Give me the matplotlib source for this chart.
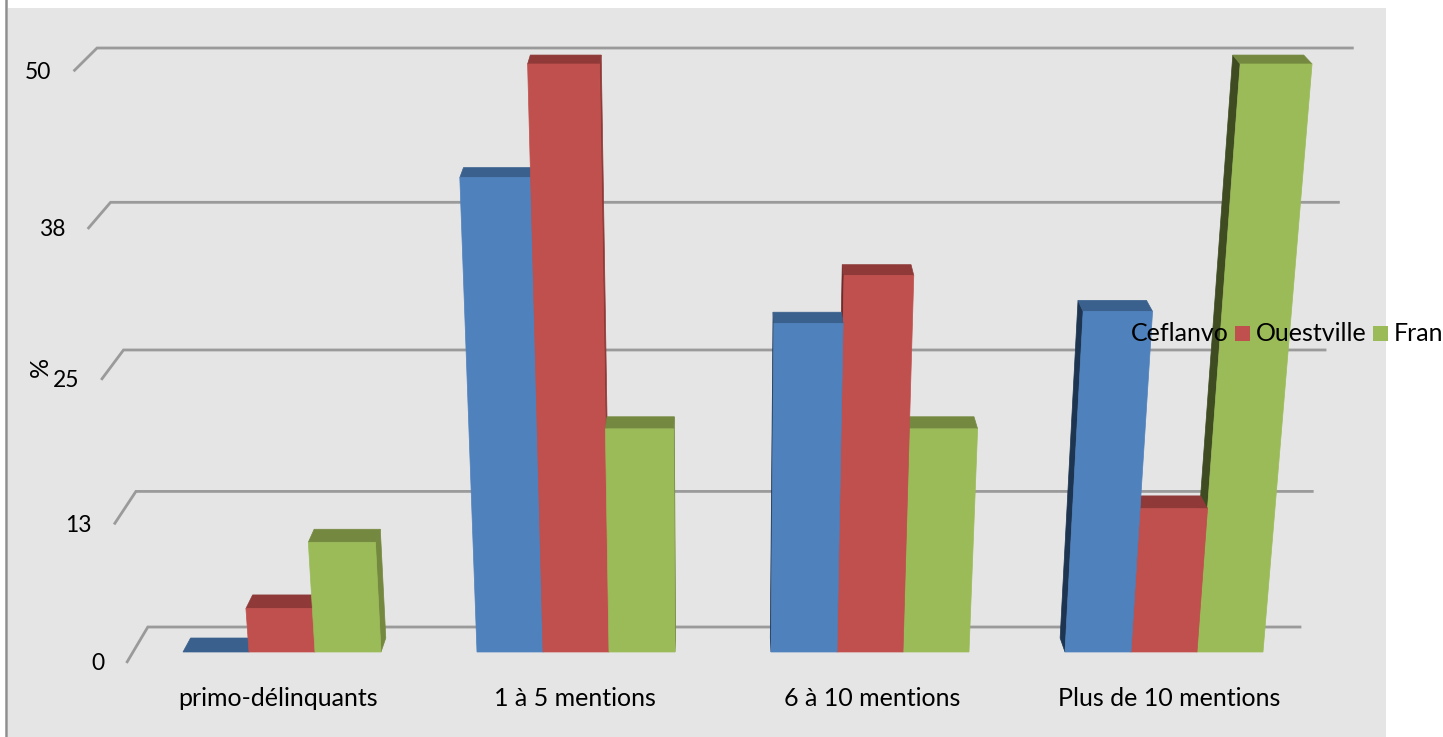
import numpy as np
import matplotlib
matplotlib.use('Agg')
import matplotlib.pyplot as plt
from matplotlib.patches import Rectangle

plt.rcParams['font.family'] = ['Lato', 'DejaVu Sans']

categories = ['primo-délinquants', '1 à 5 mentions', '6 à 10 mentions', 'Plus de 10 mentions']
ceflanvo = [0, 41, 29, 30]
ouestville = [4, 50, 33, 13]
france = [10, 20, 20, 50]
tick_values = [0, 12.5, 25, 37.5, 50]
tick_labels = ['0', '13', '25', '38', '50']

series = [ceflanvo, ouestville, france]
front_cols = ['#4f81bd', '#c0504d', '#9bbb59']
top_cols = ['#3a618e', '#8f3a38', '#74893f']
dark_cols = ['#1d3550', '#6e2b2a', '#3f4c22']   # side facing the middle from the right

# camera of the fake 3D chart, all in image pixels
VP_X, VP_Y = 715, 7220
DEPTH_X, DEPTH_Y = 720, -981
DEPTH_GAIN = 1.65
BASE_Y, TOP_Y = 652, 64
CURVE = 1.09
BAR_DEPTH = 0.00857
WALL_DEPTH = 0.0153
TICK_DEPTH = -0.006
FIRST_BAR, CAT_STEP, BAR_W = 183, 294, 66
WALL_LEFT, WALL_RIGHT = 133, 1315
LABEL_X, LABEL_STEP = 278, 297


def project(x0, value, depth=0.0):
    t = value / 50
    y = BASE_Y - (BASE_Y - TOP_Y) * t / (t + CURVE * (1 - t))
    x = VP_X + (x0 - VP_X) * (VP_Y - y) / (VP_Y - BASE_Y)
    x = x + (DEPTH_X - x) * depth * DEPTH_GAIN
    y = y - (y - DEPTH_Y) * depth
    return x, y


def face(ax, pts, color, zorder):
    xs, ys = zip(*pts)
    ax.fill(xs, ys, facecolor=color, edgecolor=color, lw=0.5, zorder=zorder)


fig = plt.figure(figsize=(14.43, 7.37), dpi=100, facecolor='white')
ax = fig.add_axes([0, 0, 1, 1])
ax.set_xlim(0, 1443)
ax.set_ylim(737, 0)
ax.axis('off')

ax.add_patch(Rectangle((8, 8), 1378, 729, facecolor='#e5e5e5', edgecolor='none', zorder=0))
ax.plot([6, 6], [0, 737], color='#8e8e8e', lw=1.8, zorder=1)

# grid on the back wall plus the short tick going forward on the left
for val, lab in zip(tick_values, tick_labels):
    a = project(WALL_LEFT, val, TICK_DEPTH)
    b = project(WALL_LEFT, val, WALL_DEPTH)
    c = project(WALL_RIGHT, val, WALL_DEPTH)
    ax.plot([a[0], b[0], c[0]], [a[1], b[1], c[1]], color='#9a9a9a', lw=2.0, zorder=2,
            solid_joinstyle='miter')
    ax.text(a[0] - 23, a[1] + 2, lab, fontsize=16.5, color='black', ha='right', va='center', zorder=1000)

ax.text(40, 367, '%', fontsize=18, rotation=90, ha='center', va='center', zorder=1000)

# bars, furthest from the middle of the picture first so the overlaps come out right
z = 5
for c in range(len(categories)):
    order = [0, 1, 2] if c < 2 else [2, 1, 0]
    for s in order:
        val = series[s][c]
        x_l = FIRST_BAR + CAT_STEP * c + BAR_W * s
        x_r = x_l + BAR_W
        fl0, fl1 = project(x_l, 0), project(x_l, val)
        fr0, fr1 = project(x_r, 0), project(x_r, val)
        bl0, bl1 = project(x_l, 0, BAR_DEPTH), project(x_l, val, BAR_DEPTH)
        br0, br1 = project(x_r, 0, BAR_DEPTH), project(x_r, val, BAR_DEPTH)
        if (x_l + x_r) / 2 > DEPTH_X:
            face(ax, [fl0, fl1, bl1, bl0], dark_cols[s], z)
        else:
            face(ax, [fr0, fr1, br1, br0], top_cols[s], z)
        face(ax, [fl1, fr1, br1, bl1], top_cols[s], z + 1)
        if val > 0:
            face(ax, [fl0, fl1, fr1, fr0], front_cols[s], z + 2)
        z += 3

for c, name in enumerate(categories):
    ax.text(LABEL_X + LABEL_STEP * c, 698, name, fontsize=18, color='black',
            ha='center', va='center', zorder=1000)

# legend, cut short like in the original and without the blue key
ax.text(1131, 333, 'Ceflanvo', fontsize=18, ha='left', va='center', zorder=1000)
ax.add_patch(Rectangle((1235, 326), 15, 15, facecolor=front_cols[1], edgecolor='none', zorder=1000))
ax.text(1256, 333, 'Ouestville', fontsize=18, ha='left', va='center', zorder=1000)
ax.add_patch(Rectangle((1373, 326), 15, 15, facecolor=front_cols[2], edgecolor='none', zorder=1000))
ax.text(1394, 333, 'Fran', fontsize=18, ha='left', va='center', zorder=1000)

fig.savefig('out.png', dpi=100, facecolor='white')
